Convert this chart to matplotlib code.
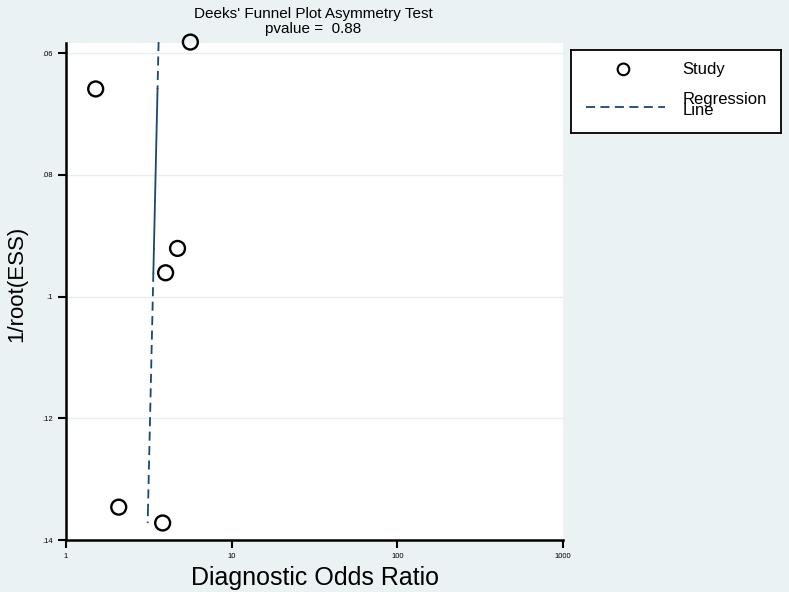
import numpy as np
import matplotlib.pyplot as plt
from matplotlib.ticker import FixedLocator, FixedFormatter, NullLocator

plt.rcParams["font.family"] = ["Liberation Sans", "DejaVu Sans"]

# Data
dor = [5.63, 1.51, 4.71, 3.99, 2.08, 3.83]
inv_root_ess = [0.0582, 0.0659, 0.0921, 0.0961, 0.1346, 0.1372]
reg_top = (0.0582, 3.62)    # (1/root(ESS), DOR) at top of regression line
reg_bottom = (0.1372, 3.11)
pvalue = 0.88
y_ticks = [0.06, 0.08, 0.10, 0.12, 0.14]
y_labels = [".06", ".08", ".1", ".12", ".14"]
x_ticks = [1, 10, 100, 1000]
x_labels = ["1", "10", "100", "1000"]

bg = "#eaf2f3"
navy = "#1a476f"

fig = plt.figure(figsize=(7.89, 5.92), dpi=100, facecolor=bg)
ax = fig.add_axes([0.0837, 0.0878, 0.6299, 0.8395])
ax.set_facecolor("white")

# Regression line: fitted log(DOR) at each study's 1/root(ESS)
y_sorted = np.sort(inv_root_ess)
slope = (np.log10(reg_bottom[1]) - np.log10(reg_top[1])) / (reg_bottom[0] - reg_top[0])
fit_x = 10 ** (np.log10(reg_top[1]) + slope * (y_sorted - reg_top[0]))
for i in range(len(y_sorted) - 1):
    ls = "-" if 1 <= i <= 2 else (0, (5, 3))
    ax.plot(fit_x[i:i + 2], y_sorted[i:i + 2], color=navy, lw=1.3, ls=ls,
            zorder=2, clip_on=False)

ax.scatter(dor, inv_root_ess, s=115, facecolors="none", edgecolors="black",
           linewidths=1.7, zorder=3, clip_on=False)

ax.set_xscale("log")
ax.set_xlim(1, 1000)
ax.set_ylim(0.14, 0.05836)
ax.xaxis.set_major_locator(FixedLocator(x_ticks))
ax.xaxis.set_major_formatter(FixedFormatter(x_labels))
ax.xaxis.set_minor_locator(NullLocator())
ax.set_yticks(y_ticks)
ax.set_yticklabels(y_labels)
ax.tick_params(axis="both", labelsize=5.5, length=6, width=1.5, direction="out")
ax.tick_params(axis="x", pad=3)
for y in y_ticks[:-1]:
    ax.axhline(y, color="#e6eef0", lw=1, zorder=1)

for side in ["top", "right"]:
    ax.spines[side].set_visible(False)
for side in ["left", "bottom"]:
    ax.spines[side].set_linewidth(1.8)

ax.set_xlabel("Diagnostic Odds Ratio", fontsize=18, labelpad=5)
ax.set_ylabel("1/root(ESS)", fontsize=16)
ax.yaxis.set_label_coords(-0.078, 0.515)

fig.text(0.397, 0.977, "Deeks' Funnel Plot Asymmetry Test", ha="center", va="center", fontsize=11)
fig.text(0.397, 0.951, "pvalue =  %.2f" % pvalue, ha="center", va="center", fontsize=11)

# Legend box
lax = fig.add_axes([0.7237, 0.775, 0.266, 0.14])
lax.set_xlim(0, 1)
lax.set_ylim(0, 1)
lax.set_xticks([])
lax.set_yticks([])
lax.set_facecolor("white")
for s in lax.spines.values():
    s.set_linewidth(1.3)
lax.scatter([0.25], [0.77], s=70, facecolors="none", edgecolors="black", linewidths=1.5)
lax.plot([0.07, 0.45], [0.32, 0.32], color=navy, lw=1.3, ls=(0, (5, 3)))
lax.text(0.53, 0.77, "Study", va="center", fontsize=12)
lax.text(0.53, 0.34, "Regression\nLine", va="center", fontsize=12, linespacing=0.7)

fig.savefig("out.png", dpi=100, facecolor=bg)
